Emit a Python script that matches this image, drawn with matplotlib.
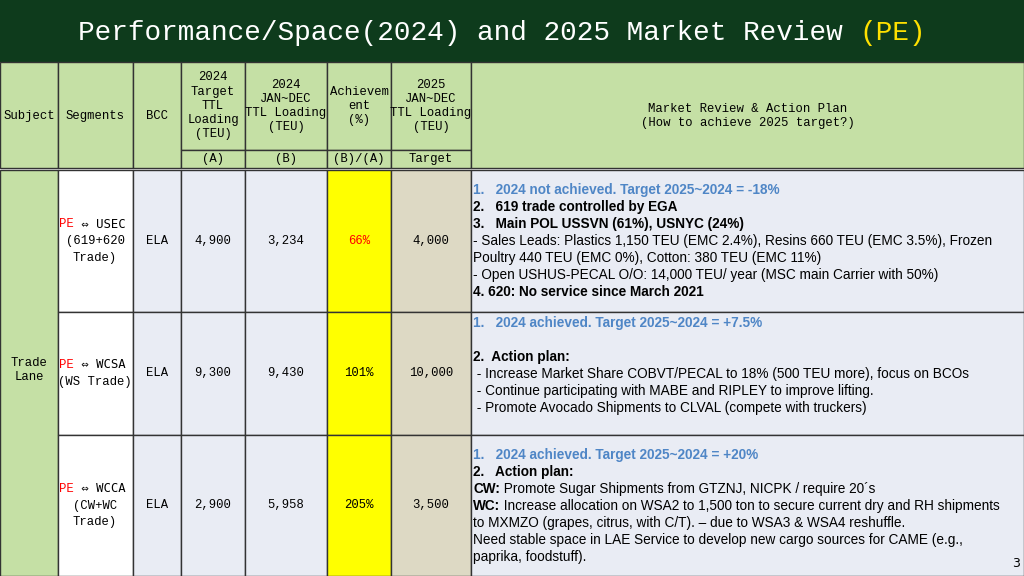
import matplotlib
matplotlib.use("Agg")
import matplotlib.pyplot as plt
from matplotlib.patches import Rectangle

subjects = "Trade\nLane"
segments = ["PE", "PE", "PE"]
segment_rest = [" ⇔ USEC\n(619+620\nTrade)", " ⇔ WCSA\n(WS Trade)", " ⇔ WCCA\n(CW+WC\nTrade)"]
bcc = ["ELA", "ELA", "ELA"]
target_2024 = ["4,900", "9,300", "2,900"]
loading_2024 = ["3,234", "9,430", "5,958"]
achievement = ["66%", "101%", "205%"]
target_2025 = ["4,000", "10,000", "3,500"]

plans = [
    [[("1.   2024 not achieved. Target 2025~2024 = -18%", "#4f86c6", True)],
     [("2.   619 trade controlled by EGA", "black", True)],
     [("3.   Main POL USSVN (61%), USNYC (24%)", "black", True)],
     [("- Sales Leads: Plastics 1,150 TEU (EMC 2.4%), Resins 660 TEU (EMC 3.5%), Frozen", "black", False)],
     [("Poultry 440 TEU (EMC 0%), Cotton: 380 TEU (EMC 11%)", "black", False)],
     [("- Open USHUS-PECAL O/O: 14,000 TEU/ year (MSC main Carrier with 50%)", "black", False)],
     [("4. 620: No service since March 2021", "black", True)]],
    [[("1.   2024 achieved. Target 2025~2024 = +7.5%", "#4f86c6", True)],
     [("", "black", False)],
     [("2.  Action plan:", "black", True)],
     [(" - Increase Market Share COBVT/PECAL to 18% (500 TEU more), focus on BCOs", "black", False)],
     [(" - Continue participating with MABE and RIPLEY to improve lifting.", "black", False)],
     [(" - Promote Avocado Shipments to CLVAL (compete with truckers)", "black", False)]],
    [[("1.   2024 achieved. Target 2025~2024 = +20%", "#4f86c6", True)],
     [("2.   Action plan:", "black", True)],
     [("CW:", "black", True), (" Promote Sugar Shipments from GTZNJ, NICPK / require 20´s", "black", False)],
     [("WC:", "black", True), (" Increase allocation on WSA2 to 1,500 ton to secure current dry and RH shipments", "black", False)],
     [("to MXMZO (grapes, citrus, with C/T). – due to WSA3 & WSA4 reshuffle.", "black", False)],
     [("Need stable space in LAE Service to develop new cargo sources for CAME (e.g.,", "black", False)],
     [("paprika, foodstuff).", "black", False)]],
]

fig = plt.figure(figsize=(10.24, 5.76), dpi=100)
ax = fig.add_axes([0, 0, 1, 1])
ax.set_xlim(0, 1024); ax.set_ylim(576, 0); ax.axis("off")
mono = "Liberation Mono"
fs = 8.8

def rect(x0, y0, x1, y1, fc, lw=1.0):
    ax.add_patch(Rectangle((x0, y0), x1 - x0, y1 - y0, facecolor=fc, edgecolor="#333333", lw=lw))

ax.add_patch(Rectangle((0, 0), 1024, 62, facecolor="#0e3b1c", edgecolor="none"))
t = ax.text(78, 33, "Performance/Space(2024) and 2025 Market Review ", color="white",
            fontsize=20, family=mono, va="center")
ax.annotate("(PE)", xy=(1, 0.5), xycoords=t, va="center", ha="left", color="#ffe000",
            fontsize=20, family=mono)

xs = [0, 58, 133, 181, 245, 327, 391, 471, 1024]
hdr = "#c5e0a5"
for i in range(8):
    if 3 <= i <= 6:
        rect(xs[i], 62, xs[i+1], 150, hdr)
        rect(xs[i], 150, xs[i+1], 168, hdr)
    else:
        rect(xs[i], 62, xs[i+1], 168, hdr)
htxt = ["Subject", "Segments", "BCC", "2024\nTarget\nTTL\nLoading\n(TEU)", "2024\nJAN~DEC\nTTL Loading\n(TEU)",
        "Achievem\nent\n(%)", "2025\nJAN~DEC\nTTL Loading\n(TEU)", "Market Review & Action Plan\n(How to achieve 2025 target?)"]
for i, s in enumerate(htxt):
    yc = 116 if i in (0, 1, 2, 7) else 106
    ax.text((xs[i] + xs[i+1]) / 2, yc, s, ha="center", va="center", fontsize=fs, family=mono, linespacing=1.25)
for i, s in zip(range(3, 7), ["(A)", "(B)", "(B)/(A)", "Target"]):
    ax.text((xs[i] + xs[i+1]) / 2, 159, s, ha="center", va="center", fontsize=fs, family=mono)

rows = [(170, 312), (312, 435), (435, 576)]
rect(0, 170, 58, 576, hdr)
ax.text(29, 370, subjects, ha="center", va="center", fontsize=fs, family=mono)
gray = "#e9ecf4"
for r, (y0, y1) in enumerate(rows):
    yc = (y0 + y1) / 2
    rect(58, y0, 133, y1, "white")
    rect(133, y0, 181, y1, gray)
    rect(181, y0, 245, y1, gray)
    rect(245, y0, 327, y1, gray)
    rect(327, y0, 391, y1, "#ffff00")
    rect(391, y0, 471, y1, "#ddd9c4")
    rect(471, y0, 1024, y1, gray)
    lines = segment_rest[r].split("\n")
    n = len(lines)
    top = yc - (n - 1) * 17 / 2
    pe = ax.text(59, top, segments[r], color="red", fontsize=fs, family=mono, va="center", ha="left")
    ax.annotate(lines[0], xy=(1, 0.5), xycoords=pe, va="center", ha="left", fontsize=fs, family="DejaVu Sans Mono")
    for k in range(1, n):
        ax.text(95, top + 17 * k, lines[k], ha="center", va="center", fontsize=fs, family=mono)
    for i, vals in zip(range(2, 7), [bcc, target_2024, loading_2024, achievement, target_2025]):
        c = "red" if (i == 5 and r == 0) else "black"
        ax.text((xs[i] + xs[i+1]) / 2, yc, vals[r], ha="center", va="center", fontsize=fs, family=mono, color=c)
    starts = [190, 323, 455]
    for li, parts in enumerate(plans[r]):
        y = starts[r] + 17 * li
        prev = None
        for txt, col, b in parts:
            w = "bold" if b else "normal"
            if prev is None:
                prev = ax.text(473, y, txt, color=col, fontweight=w, fontsize=9.8, va="center",
                               ha="left", family="Liberation Sans")
            else:
                prev = ax.annotate(txt, xy=(1, 0.5), xycoords=prev, color=col, fontweight=w, fontsize=9.8,
                                   va="center", ha="left", family="Liberation Sans")

ax.text(1020, 570, "3", ha="right", va="bottom", fontsize=9)
fig.savefig("out.png", dpi=100)
